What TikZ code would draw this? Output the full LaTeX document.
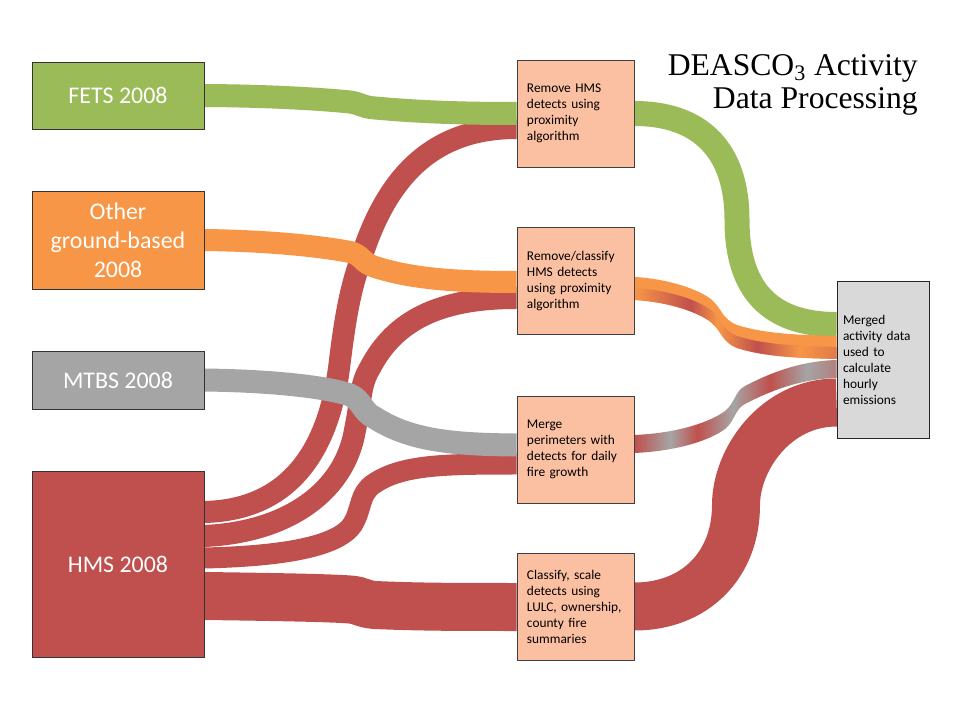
\documentclass[tikz,border=0pt]{standalone}
\usepackage{fontspec}
\setmainfont{Carlito}
\newfontfamily\titlefont{Liberation Serif}
\usetikzlibrary{calc}

\definecolor{fetsgreen}{HTML}{9BBB59}
\definecolor{othorange}{HTML}{F79646}
\definecolor{mtbsgray}{HTML}{A5A5A5}
\definecolor{hmsred}{HTML}{C0504D}
\definecolor{stepfill}{HTML}{FBBFA2}
\definecolor{mergedgray}{HTML}{D9D9D9}

\pgfdeclarelayer{background}
\pgfsetlayers{background,main}

% stripes along the two mixed flows (25bp = left box, 75bp = merged box)
\pgfdeclarehorizontalshading{classifyfade}{100bp}{color(0bp)=(othorange); color(25bp)=(othorange); color(38.8bp)=(hmsred); color(45.7bp)=(othorange); color(55.3bp)=(hmsred); color(65.9bp)=(othorange); color(75bp)=(othorange!60!hmsred); color(100bp)=(othorange!60!hmsred)}
\pgfdeclarehorizontalshading{perimfade}{100bp}{color(0bp)=(hmsred); color(25bp)=(hmsred); color(33.9bp)=(mtbsgray); color(40.5bp)=(hmsred); color(49.4bp)=(mtbsgray); color(58.5bp)=(hmsred); color(67.6bp)=(mtbsgray); color(75bp)=(mtbsgray!55!hmsred); color(100bp)=(mtbsgray!55!hmsred)}

\tikzset{
	flow/.style = {line width = #1*0.025cm},
	source/.style = {draw = black!80, line width = 0.6pt, text = white, align = center, minimum width = 4.3cm, font = \fontsize{17}{20.5}\selectfont},
	stepbox/.style = {draw = black!75, fill = stepfill, line width = 0.6pt, minimum width = 2.925cm, minimum height = 2.675cm, inner xsep = 0.25cm, text width = 2.425cm, align = left, font = \fontsize{9.5}{11.4}\selectfont}
}

\begin{document}
\begin{tikzpicture}[x = 0.025cm, y = -0.025cm]
	
	\useasboundingbox (0, 0) rectangle (960, 720);
	
	\node[source, fill = fetsgreen, minimum height = 1.675cm] (fets) at (118, 95.5) {FETS 2008};
	\node[source, fill = othorange, minimum height = 2.45cm] (other) at (118, 240) {Other\\ground-based\\2008};
	\node[source, fill = mtbsgray, minimum height = 1.45cm] (mtbs) at (118, 380) {MTBS 2008};
	\node[source, fill = hmsred, minimum height = 4.65cm] (hms) at (118, 564) {HMS 2008};
	
	\node[stepbox] (prox) at (575.5, 113.5) {Remove HMS\\detects using\\proximity\\algorithm};
	\node[stepbox] (classify) at (575.5, 281) {Remove/classify\\HMS detects\\using proximity\\algorithm};
	\node[stepbox] (perim) at (575.5, 449.5) {Merge\\perimeters with\\detects for daily\\fire growth};
	\node[stepbox] (scale) at (575.5, 607) {Classify, scale\\detects using\\LULC, ownership,\\county fire\\summaries};
	
	\node[draw = black!85, fill = mergedgray, line width = 0.6pt, minimum width = 2.3cm, minimum height = 3.925cm, inner xsep = 0.15cm, text width = 2.0cm, align = left, font = \fontsize{9.5}{11.4}\selectfont] (merged) at (883, 359.5) {Merged\\activity data\\used to\\calculate\\hourly\\emissions};
	
	\node[anchor = north east, align = right, inner sep = 0pt, font = \titlefont\fontsize{22.5}{23.5}\selectfont] (title) at (918, 54.5) {DEASCO\textsubscript{3} Activity\\Data Processing};
	
	\begin{pgfonlayer}{background}
		
		% HMS detects fanning out
		\draw[flow = 22, hmsred] ($(hms.east)+(0,-52)$) .. controls (290, 510) and (330, 450) .. (340, 360) .. controls (345, 320) and (350, 290) .. (360, 262) .. controls (385, 180) and (430, 128) .. ($(prox.west)+(0,14.5)$);
		\draw[flow = 22, hmsred] ($(hms.east)+(0,-28)$) .. controls (290, 532) and (345, 490) .. (355, 430) .. controls (362, 395) and (360, 385) .. (370, 368) .. controls (395, 320) and (440, 298) .. ($(classify.west)+(0,17)$);
		\draw[flow = 21, hmsred] ($(hms.east)+(0,-6)$) .. controls (290, 556) and (345, 545) .. (355, 520) .. controls (362, 505) and (360, 495) .. (372, 485) .. controls (400, 465) and (440, 464) .. ($(perim.west)+(0,14.5)$);
		\draw[flow = 48, hmsred] ($(hms.east)+(0,32)$) .. controls (280, 597) and (330, 598) .. (350, 599.5) .. controls (362, 600.5) and (362, 604) .. (375, 605) .. controls (420, 607) and (460, 607) .. (scale.west);
		
		\draw[flow = 23, fetsgreen] (fets.east) .. controls (280, 96) and (330, 100) .. (350, 102) .. controls (362, 104) and (362, 107) .. (375, 108) .. controls (420, 112) and (460, 113.5) .. (prox.west);
		\draw[flow = 22, othorange] (other.east) .. controls (280, 241) and (330, 248) .. (350, 252) .. controls (362, 255) and (362, 263) .. (375, 267) .. controls (410, 278) and (450, 282) .. ($(classify.west)+(0,1)$);
		\draw[flow = 23, mtbsgray] (mtbs.east) .. controls (280, 381) and (330, 388) .. (350, 395) .. controls (362, 400) and (362, 412) .. (375, 418) .. controls (410, 440) and (450, 444.5) .. ($(perim.west)+(0,-4.5)$);
		
		% into the merged box
		\draw[flow = 25, fetsgreen] (prox.east) .. controls (700, 113.5) and (737, 150) .. (737, 220) .. controls (737, 290) and (770, 324.5) .. ($(merged.west)+(0,-35)$);
		
		\fill[othorange] ($(classify.east)+(0,-4)$) .. controls (670, 279) and (700, 290) .. (712, 300) .. controls (722, 309) and (722, 319) .. (737, 325) .. controls (765, 334) and (800, 335) .. ($(merged.west)+(0,-23.5)$)
			-- ($(merged.west)+(0,-0.5)$) .. controls (800, 358) and (765, 357) .. (737, 348) .. controls (722, 342) and (722, 332) .. (712, 323) .. controls (700, 313) and (670, 302) .. ($(classify.east)+(0,19)$) -- cycle;
		\shade[shading = classifyfade] ($(classify.east)+(0,7)$) .. controls (670, 290) and (700, 301) .. (712, 311) .. controls (722, 320) and (722, 330) .. (737, 336) .. controls (765, 345) and (800, 346) .. ($(merged.west)+(0,-12.5)$)
			-- ($(merged.west)+(0,-0.5)$) .. controls (800, 358) and (765, 357) .. (737, 348) .. controls (722, 342) and (722, 332) .. (712, 323) .. controls (700, 313) and (670, 302) .. ($(classify.east)+(0,19)$) -- cycle;
		
		\shade[shading = perimfade] ($(perim.east)+(0,-14.5)$) .. controls (680, 433) and (712, 421) .. (725, 411) .. controls (735, 403) and (735, 391) .. (745, 386) .. controls (770, 373) and (800, 361) .. ($(merged.west)+(0,0.5)$)
			-- ($(merged.west)+(0,18.5)$) .. controls (800, 379) and (770, 391) .. (745, 404) .. controls (735, 409) and (735, 421) .. (725, 429) .. controls (712, 439) and (680, 451) .. ($(perim.east)+(0,3.5)$) -- cycle;
		
		\draw[flow = 48, hmsred] ($(scale.east)+(0,-0.5)$) .. controls (695, 606.5) and (736, 565) .. (736, 505) .. controls (736, 460) and (775, 402.5) .. ($(merged.west)+(0,43)$);
		
	\end{pgfonlayer}
	
\end{tikzpicture}
\end{document}
